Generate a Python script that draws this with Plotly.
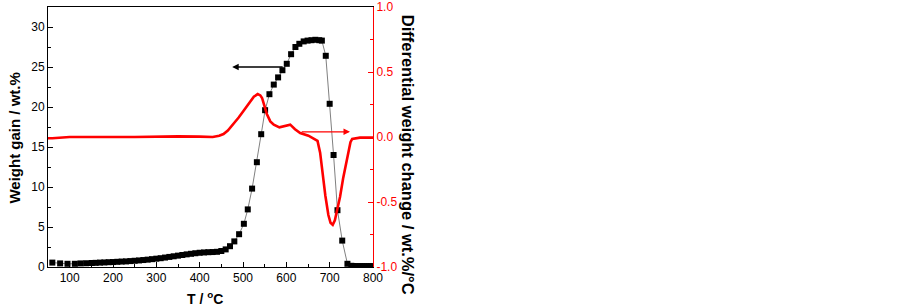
import plotly.graph_objects as go

# Weight gain (TG) data, left axis
T_tg = [60, 78, 95, 112, 125, 138, 151, 160, 170, 180, 190, 200, 210, 220, 230, 240,
        250, 260, 270, 280, 290, 300, 310, 320, 330, 340, 350, 360, 370, 380, 390, 400,
        410, 420, 430, 440, 450, 460, 470, 480, 491, 502, 511, 521, 532, 542, 551, 561,
        571, 581, 591, 601, 611, 621, 630, 640, 649, 658, 667, 676, 682, 691, 700, 709,
        718, 729, 741, 750, 755, 760, 765, 770, 775, 780, 785, 790, 795, 800]
W_tg = [0.55, 0.45, 0.4, 0.4, 0.45, 0.47, 0.5, 0.52, 0.55, 0.57, 0.6, 0.62, 0.65, 0.68, 0.7, 0.74,
        0.78, 0.82, 0.87, 0.92, 0.98, 1.04, 1.1, 1.18, 1.26, 1.34, 1.42, 1.5, 1.58, 1.65, 1.72, 1.78,
        1.82, 1.85, 1.87, 1.9, 2.0, 2.2, 2.6, 3.2, 4.1, 5.4, 7.2, 9.8, 13.1, 16.6, 19.6, 21.6,
        22.8, 23.7, 24.6, 25.4, 26.6, 27.5, 27.9, 28.2, 28.3, 28.35, 28.4, 28.35, 28.3, 26.4, 20.4, 14.0,
        7.1, 3.3, 0.4, 0.15, 0.12, 0.1, 0.1, 0.1, 0.1, 0.1, 0.1, 0.1, 0.1, 0.1]

# Differential weight change (DTG) data, right axis
T_dtg = [50, 60, 100, 150, 200, 250, 300, 350, 400, 430, 445, 455, 465, 478, 490, 501,
         510, 517, 525, 534, 540, 544, 550, 555, 563, 571, 584, 597, 609, 620, 632, 651,
         663, 672, 678, 684, 690, 697, 702, 707, 712, 718, 724, 731, 739, 744, 748, 752,
         758, 770, 800]
D_dtg = [-0.01, -0.01, 0.0, 0.002, 0.0, 0.0, 0.003, 0.005, 0.003, 0.0, 0.01, 0.023, 0.05, 0.1, 0.15, 0.2,
         0.245, 0.28, 0.31, 0.33, 0.32, 0.30, 0.24, 0.177, 0.12, 0.095, 0.074, 0.087, 0.095, 0.06, 0.03, 0.01,
         -0.01, -0.03, -0.12, -0.3, -0.45, -0.6, -0.66, -0.675, -0.64, -0.55, -0.46, -0.32, -0.18, -0.09, -0.04, -0.015,
         -0.01, -0.005, -0.005]

x_ticks = [100, 200, 300, 400, 500, 600, 700, 800]
y1_ticks = [0, 5, 10, 15, 20, 25, 30]
y2_ticks = [-1.0, -0.5, 0.0, 0.5, 1.0]
y2_labels = ["-1.0", "-0.5", "0.0", "0.5", "1.0"]

FONT = "Liberation Sans, Arial, sans-serif"
RED = "#ff0000"

fig = go.Figure()
fig.add_trace(go.Scatter(x=T_tg, y=W_tg, mode="lines+markers",
                         line=dict(color="#808080", width=1),
                         marker=dict(symbol="square", size=6, color="black"),
                         yaxis="y", showlegend=False))
fig.add_trace(go.Scatter(x=T_dtg, y=D_dtg, mode="lines",
                         line=dict(color=RED, width=2.6),
                         yaxis="y2", showlegend=False))

fig.update_layout(
    width=903, height=307,
    margin=dict(l=48, r=530, t=7, b=40, autoexpand=False),
    paper_bgcolor="white", plot_bgcolor="white",
    font=dict(family=FONT, size=12, color="black"),
    xaxis=dict(range=[50, 800], tickmode="array", tickvals=x_ticks, automargin=False,
               ticks="inside", ticklen=5, tickcolor="black", tickwidth=1,
               minor=dict(tickvals=[150, 250, 350, 450, 550, 650, 750], ticks="inside", ticklen=3, tickcolor="black"),
               showline=True, linecolor="black", linewidth=1, mirror=True,
               showgrid=False, zeroline=False),
    yaxis=dict(range=[0, 32.5], tickmode="array", tickvals=y1_ticks, automargin=False,
               ticks="inside", ticklen=5, tickcolor="black",
               minor=dict(tickvals=[2.5, 7.5, 12.5, 17.5, 22.5, 27.5, 32.5], ticks="inside", ticklen=3, tickcolor="black"),
               showline=True, linecolor="black", linewidth=1,
               showgrid=False, zeroline=False),
    yaxis2=dict(range=[-1, 1], overlaying="y", side="right", tickmode="array", automargin=False,
                tickvals=y2_ticks, ticktext=y2_labels,
                ticks="inside", ticklen=5, tickcolor=RED,
                minor=dict(tickvals=[-0.75, -0.25, 0.25, 0.75], ticks="inside", ticklen=3, tickcolor=RED),
                tickfont=dict(color=RED, size=12, family=FONT),
                showline=True, linecolor=RED, linewidth=1,
                showgrid=False, zeroline=False),
    annotations=[
        dict(text="T / <sup>o</sup>C", xref="paper", yref="paper", x=0.483, y=-0.119,
             xanchor="center", yanchor="middle", showarrow=False,
             font=dict(family=FONT, size=14, color="black", weight="bold")),
        dict(text="Weight gain / wt.%", xref="paper", yref="paper", x=-0.1015, y=0.494,
             xanchor="center", yanchor="middle", textangle=-90, showarrow=False,
             font=dict(family=FONT, size=15, color="black", weight="bold")),
        dict(text="Differential weight change / wt.%/°C", xref="paper", yref="paper",
             x=1.108, y=0.431, xanchor="center", yanchor="middle", textangle=90, showarrow=False,
             font=dict(family=FONT, size=16.5, color="black", weight="bold")),
        dict(text="", x=475, y=25, xref="x", yref="y", ax=595, ay=25, axref="x", ayref="y",
             showarrow=True, arrowhead=2, arrowsize=1, arrowwidth=1.3, arrowcolor="black"),
        dict(text="", x=747, y=0.04, xref="x", yref="y2", ax=632, ay=0.04, axref="x", ayref="y2",
             showarrow=True, arrowhead=2, arrowsize=1, arrowwidth=1.3, arrowcolor=RED),
    ],
)

fig.write_html("out.html", config={"displayModeBar": False},
               post_script="document.body.style.margin='0';")
